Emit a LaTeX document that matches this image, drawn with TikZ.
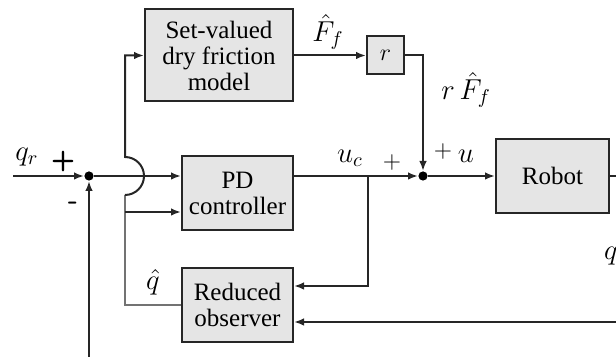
\documentclass[tikz,border=0pt]{standalone}
\usepackage{fontspec}
\setmainfont{Liberation Serif}
\usetikzlibrary{arrows.meta}
\begin{document}
\begin{tikzpicture}[x=0.5pt,y=-0.5pt,
  blk/.style={draw=black!85,line width=1pt,fill=black!10,align=center,inner sep=0pt,
    font=\fontsize{12.5}{13}\selectfont},
  wire/.style={draw=black!85,line width=1pt},
  arr/.style={wire,-{Latex[length=5pt,width=3.8pt]}},
  sumdot/.style={circle,fill=black,inner sep=0pt,minimum size=4.6pt},
  lbl/.style={inner sep=0pt,font=\fontsize{14}{14}\selectfont}]
\useasboundingbox (0,0) rectangle (616,357);
% blocks
\node[blk,minimum width=74pt,minimum height=46pt] (sv) at (219,55.5) {Set-valued\\dry friction\\model};
\node[blk,minimum width=18.5pt,minimum height=19pt] (r) at (385.5,55.5) {$r$};
\node[blk,minimum width=55.5pt,minimum height=37pt] (pd) at (237.5,193) {PD\\controller};
\node[blk,minimum width=55.5pt,minimum height=37pt] (obs) at (237.5,305) {Reduced\\observer};
\node[blk,minimum width=56.5pt,minimum height=37pt] (robot) at (552.5,176) {Robot};
% junctions
\node[sumdot] (s1) at (89,176) {};
\node[sumdot] (s2) at (423,176) {};
\coordinate (in) at (13,176);
\coordinate (bot) at (89,357);
\coordinate (rc) at (423,55.5);
\coordinate (br) at (368,176);
\coordinate (brd) at (368,286);
\coordinate (out) at (616,176);
\coordinate (fbin) at (616,322);
\coordinate (hq) at (125,305);
\coordinate (hlow) at (125,195);
\coordinate (htop) at (125,55.5);
\coordinate (b1) at (125,212);
% connectors
\draw[arr] (in) -- (s1);
\draw[arr] (bot) -- (s1);
\draw[arr] (s1) -- (s1 -| pd.west);
\draw[arr] (s1 -| pd.east) -- (s2);
\draw[arr] (sv.east |- r.west) -- (r.west);
\draw[arr] (r.east) -- (rc) -- (s2);
\draw[arr] (s2) -- (robot.west);
\draw[wire] (robot.east) -- (out);
\draw[arr] (br) -- (brd) -- (brd -| obs.east);
\draw[arr] (fbin) -- (fbin -| obs.east);
\draw[wire,draw=black!55] (obs.west |- hq) -- (hq) -- (hlow);
\draw[arr] (hlow) arc[start angle=-90,end angle=90,radius=9.5pt] -- (htop) -- (sv.west);
\draw[arr] (b1) -- (b1 -| pd.west);
% labels
\node[lbl] (lqr) at (27,157) {$q_r$};
\node[lbl,font=\sffamily\bfseries\fontsize{14}{14}\selectfont] (lp1) at (63,162) {+};
\node[lbl,font=\sffamily\bfseries\fontsize{14}{14}\selectfont] (lm1) at (73,206) {-};
\node[lbl] (lff) at (328,32) {$\hat{F}_f$};
\node[lbl] (lrff) at (466,90) {$r\,\hat{F}_f$};
\node[lbl] (luc) at (350,158) {$u_c$};
\node[lbl,font=\fontsize{12}{12}\selectfont] (lp2) at (392,163) {$+$};
\node[lbl,font=\fontsize{12}{12}\selectfont] (lp3) at (443,152) {$+$};
\node[lbl] (lu) at (466,156) {$u$};
\node[lbl] (lqh) at (153,282) {$\hat{q}$};
\node[lbl] (lq) at (611,256) {$q$};
\end{tikzpicture}
\end{document}
